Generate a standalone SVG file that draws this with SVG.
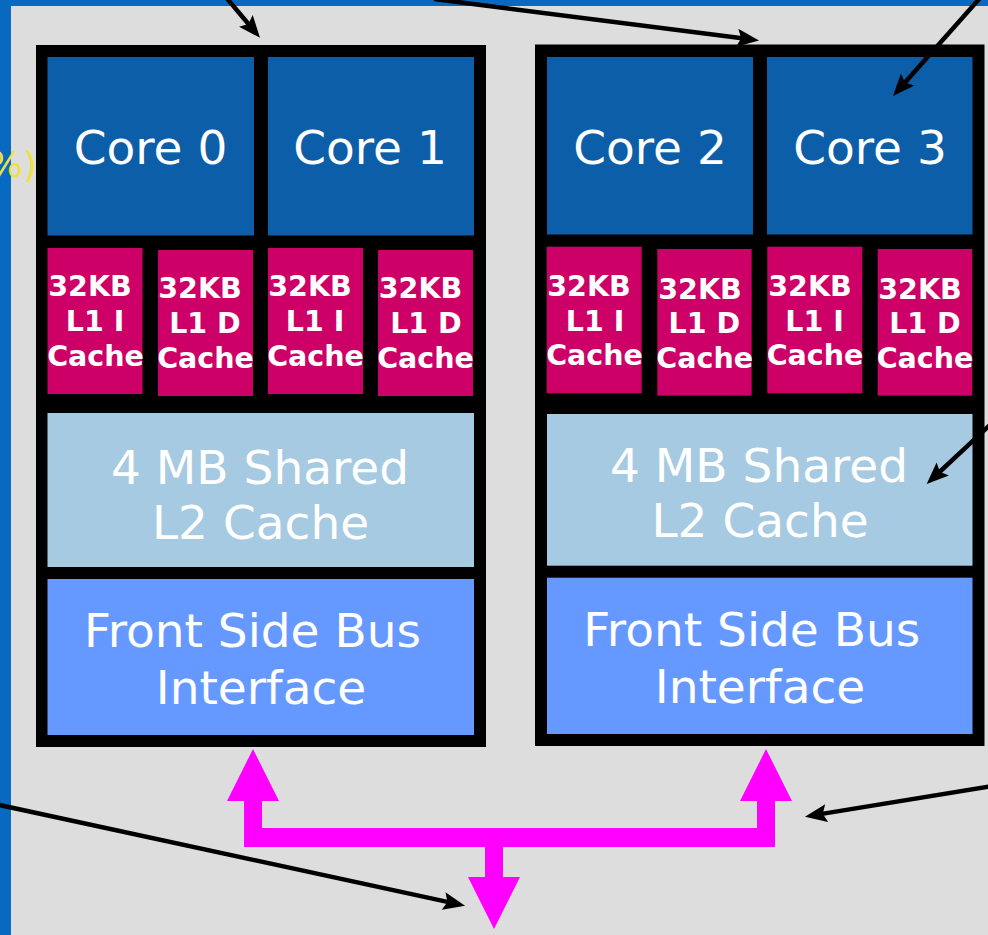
<svg xmlns="http://www.w3.org/2000/svg" width="988" height="935" viewBox="0 0 988 935">
<style>
.chip{fill:#000000}
.core{fill:#0b5ea7}
.l1{fill:#cc0066}
.l2{fill:#a6cae2}
.fsb{fill:#6699ff}
.big{font-family:"DejaVu Sans",Verdana,sans-serif;font-size:47px;fill:#ffffff;text-anchor:middle}
.sm{font-family:"DejaVu Sans",Verdana,sans-serif;font-size:28.5px;font-weight:bold;fill:#ffffff;text-anchor:middle}
.ann{stroke:#000000;stroke-width:4.5;fill:none;marker-end:url(#ah)}
.bus{fill:#ff00ff}
</style>
<defs>
<marker id="ah" viewBox="0 0 22 18" refX="11" refY="9" markerWidth="22" markerHeight="18" markerUnits="userSpaceOnUse" orient="auto">
<path d="M0,0 L22,9 L0,18 L4,9 z" fill="#000000"/>
</marker>
</defs>
<rect x="0" y="0" width="988" height="935" fill="#0869c0"/>
<rect x="11" y="6" width="977" height="929" fill="#dddddd"/>
<text x="37" y="177" font-family="DejaVu Sans,sans-serif" font-size="36" fill="#f0e040" text-anchor="end">%)</text>

<g id="chip-left">
<rect class="chip" x="36" y="45" width="450" height="702"/>
<g id="core0"><rect class="core" x="47.5" y="57" width="206.5" height="178.5"/><text class="big" x="150.5" y="164">Core 0</text></g>
<g id="core1"><rect class="core" x="268" y="57" width="206" height="178.5"/><text class="big" x="370" y="164">Core 1</text></g>
<g id="l1i-0"><rect class="l1" x="47.5" y="248" width="95" height="146"/><text class="sm" x="90" y="296">32KB</text><text class="sm" x="95" y="331">L1 I</text><text class="sm" x="95.5" y="366">Cache</text></g>
<g id="l1d-0"><rect class="l1" x="158" y="250" width="95" height="146"/><text class="sm" x="200" y="298">32KB</text><text class="sm" x="205" y="333">L1 D</text><text class="sm" x="205.5" y="368">Cache</text></g>
<g id="l1i-1"><rect class="l1" x="268" y="248" width="95" height="146"/><text class="sm" x="310" y="296">32KB</text><text class="sm" x="315" y="331">L1 I</text><text class="sm" x="315.5" y="366">Cache</text></g>
<g id="l1d-1"><rect class="l1" x="378" y="250" width="95" height="146"/><text class="sm" x="420.5" y="298">32KB</text><text class="sm" x="426" y="333">L1 D</text><text class="sm" x="425.5" y="368">Cache</text></g>
<g id="l2-left"><rect class="l2" x="47.5" y="413" width="426.5" height="154"/><text class="big" x="260" y="484">4 MB Shared</text><text class="big" x="260.5" y="539">L2 Cache</text></g>
<g id="fsb-left"><rect class="fsb" x="47.5" y="579" width="426.5" height="156"/><text class="big" x="252.5" y="647">Front Side Bus</text><text class="big" x="261" y="704">Interface</text></g>
</g>

<g id="chip-right">
<rect class="chip" x="535" y="44.5" width="449.5" height="701.5"/>
<g id="core2"><rect class="core" x="547" y="57" width="206" height="177.5"/><text class="big" x="650" y="164">Core 2</text></g>
<g id="core3"><rect class="core" x="767" y="57" width="205.5" height="177.5"/><text class="big" x="870" y="164">Core 3</text></g>
<g id="l1i-2"><rect class="l1" x="546.7" y="246.7" width="95" height="146.6"/><text class="sm" x="589" y="296">32KB</text><text class="sm" x="595" y="331">L1 I</text><text class="sm" x="594.5" y="365">Cache</text></g>
<g id="l1d-2"><rect class="l1" x="657.3" y="249" width="94.4" height="146.7"/><text class="sm" x="700" y="298.5">32KB</text><text class="sm" x="704.3" y="333">L1 D</text><text class="sm" x="704.7" y="368">Cache</text></g>
<g id="l1i-3"><rect class="l1" x="767.3" y="246.7" width="95" height="146.6"/><text class="sm" x="810" y="296">32KB</text><text class="sm" x="814.5" y="331">L1 I</text><text class="sm" x="815" y="365">Cache</text></g>
<g id="l1d-3"><rect class="l1" x="877.7" y="249" width="94.6" height="146.7"/><text class="sm" x="920" y="298.5">32KB</text><text class="sm" x="925" y="333">L1 D</text><text class="sm" x="925" y="368">Cache</text></g>
<g id="l2-right"><rect class="l2" x="547" y="414" width="425.5" height="151.7"/><text class="big" x="759" y="482">4 MB Shared</text><text class="big" x="760" y="537">L2 Cache</text></g>
<g id="fsb-right"><rect class="fsb" x="547" y="577.7" width="425.5" height="156.3"/><text class="big" x="751.7" y="646">Front Side Bus</text><text class="big" x="760" y="703">Interface</text></g>
</g>

<g id="bus">
<path class="bus" d="M253,749 L279,801 L262,801 L262,828 L757,828 L757,801 L740,801 L766,749 L792,801 L775,801 L775,847 L503,847 L503,877 L520,877 L494,929 L468,877 L485,877 L485,847 L244,847 L244,801 L227,801 Z"/>
</g>

<g id="connectors">
<line class="ann" x1="226.6" y1="-2" x2="252.9" y2="29.3"/>
<line class="ann" x1="434" y1="-1" x2="748.1" y2="39.1"/>
<line class="ann" x1="980" y1="-2" x2="900.3" y2="87.8"/>
<line class="ann" x1="992" y1="423" x2="934.7" y2="476.5"/>
<line class="ann" x1="-5" y1="804" x2="454.3" y2="903.4"/>
<line class="ann" x1="992" y1="786" x2="815.8" y2="814.9"/>
</g>
</svg>
